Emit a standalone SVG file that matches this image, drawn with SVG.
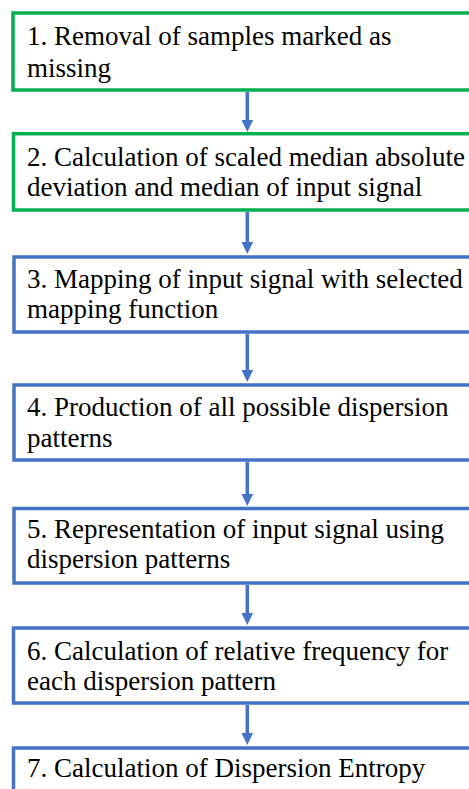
<svg xmlns="http://www.w3.org/2000/svg" width="469" height="789" viewBox="0 0 469 789">
<style>
.g{fill:#fff;stroke:#00B050;stroke-width:3.5}
.b{fill:#fff;stroke:#4472C4;stroke-width:3.5}
.c line{stroke:#4472C4;stroke-width:3.5}
.c polygon{fill:#4472C4}
</style>
<rect width="469" height="789" fill="#fff"/>
<g class="c" id="connectors">
<line x1="247.3" y1="92" x2="247.3" y2="121"/><polygon points="241.5,120 253.1,120 247.3,132"/>
<line x1="247.3" y1="212" x2="247.3" y2="243"/><polygon points="241.5,242 253.1,242 247.3,254"/>
<line x1="247.3" y1="334" x2="247.3" y2="371"/><polygon points="241.5,370 253.1,370 247.3,382"/>
<line x1="247.3" y1="462" x2="247.3" y2="495"/><polygon points="241.5,494 253.1,494 247.3,506"/>
<line x1="247.3" y1="585" x2="247.3" y2="614"/><polygon points="241.5,613 253.1,613 247.3,625"/>
<line x1="247.3" y1="705" x2="247.3" y2="734"/><polygon points="241.5,733 253.1,733 247.3,745"/>
</g>
<g id="n1"><rect class="g" x="13" y="13" width="470" height="77"/><text x="27" y="45" font-family="Liberation Serif" font-size="27">1. Removal of samples marked as</text><text x="27" y="77" font-family="Liberation Serif" font-size="27">missing</text></g>
<g id="n2"><rect class="g" x="13.5" y="133.7" width="470" height="76.3"/><text x="27" y="166" font-family="Liberation Serif" font-size="27">2. Calculation of scaled median absolute</text><text x="27" y="196" font-family="Liberation Serif" font-size="27">deviation and median of input signal</text></g>
<g id="n3"><rect class="b" x="14" y="257" width="470" height="75"/><text x="27" y="288" font-family="Liberation Serif" font-size="27">3. Mapping of input signal with selected</text><text x="27" y="318" font-family="Liberation Serif" font-size="27">mapping function</text></g>
<g id="n4"><rect class="b" x="14" y="385" width="470" height="75"/><text x="27" y="416" font-family="Liberation Serif" font-size="27">4. Production of all possible dispersion</text><text x="27" y="447" font-family="Liberation Serif" font-size="27">patterns</text></g>
<g id="n5"><rect class="b" x="14" y="508.5" width="470" height="74.5"/><text x="27" y="538" font-family="Liberation Serif" font-size="27">5. Representation of input signal using</text><text x="27" y="568" font-family="Liberation Serif" font-size="27">dispersion patterns</text></g>
<g id="n6"><rect class="b" x="13.5" y="628" width="470" height="75"/><text x="27" y="660" font-family="Liberation Serif" font-size="27">6. Calculation of relative frequency for</text><text x="27" y="690" font-family="Liberation Serif" font-size="27">each dispersion pattern</text></g>
<g id="n7"><rect class="b" x="13.5" y="748" width="470" height="75"/><text x="27" y="777" font-family="Liberation Serif" font-size="27">7. Calculation of Dispersion Entropy</text></g>
</svg>
